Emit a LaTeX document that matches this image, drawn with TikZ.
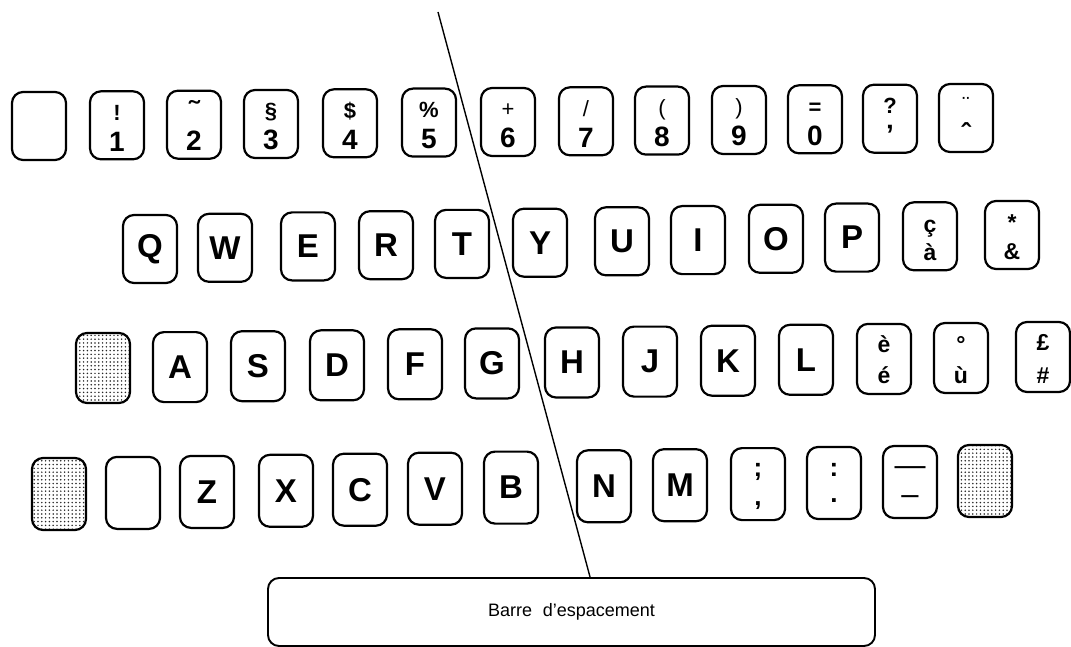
\documentclass[tikz,border=0pt]{standalone}
\usepackage{fontspec}
\usepackage{graphicx}
\setmainfont{Liberation Sans}
\usetikzlibrary{patterns.meta}
\newcommand\numkey[4]{% name, position, upper, lower
  \node[keycap] (#1) at (#2) {};
  \node[upsym] at ([yshift=5pt]#1.center) {#3};
  \node[digit] at ([yshift=-26pt]#1.center) {#4};}
\newcommand\lkey[4][]{% options, name, position, letter
  \node[keycap,#1] (#2) at (#3) {};
  \node[letter] at (#2.center) {#4};}
\newcommand\dkey[7][]{% options, name, position, upper, lower, upper shift, lower shift
  \node[keycap,#1] (#2) at (#3) {};
  \node[dual] at ([yshift=#6]#2.center) {#4};
  \node[dual] at ([yshift=#7]#2.center) {#5};}
\begin{document}
\begin{tikzpicture}[x=1pt,y=-1pt,
  keycap/.style={draw, line width=2.2pt, rounded corners=11pt, minimum width=54pt, minimum height=68pt, inner sep=0pt},
  r3/.style={minimum height=70pt},
  r4/.style={minimum height=72pt},
  dotted key/.style={pattern={Dots[distance=3.8pt,radius=0.85pt]}, pattern color=black!85},
  letter/.style={font=\fontsize{33}{33}\selectfont\bfseries, inner sep=0pt},
  digit/.style={font=\fontsize{28}{28}\selectfont\bfseries, inner sep=0pt, anchor=base},
  upsym/.style={font=\fontsize{22}{22}\selectfont\bfseries, inner sep=0pt, anchor=base},
  dual/.style={font=\fontsize{23}{23}\selectfont\bfseries, inner sep=0pt, anchor=base},
  punct/.style={font=\fontsize{26}{26}\selectfont\bfseries, inner sep=0pt, anchor=base},
  dashglyph/.style={font=\fontsize{31}{31}\selectfont, inner sep=0pt, anchor=base},
  spacebar/.style={draw, line width=1.9pt, rounded corners=11pt, minimum width=607pt, minimum height=68pt, inner sep=0pt},
  pointer/.style={line width=1.4pt}]
\useasboundingbox (0,0) rectangle (1071,647);
% ---- row 1
\node[keycap] (blank1) at (39,126) {};
\numkey{k1}{117,125.3}{!}{1}
\numkey{k2}{194,124.7}{\scalebox{1.4}[1.2]{˜}}{2}
\numkey{k3}{271,124}{§}{3}
\numkey{k4}{350,123.3}{\$}{4}
\numkey{k5}{429,122.6}{\%}{5}
\numkey{k6}{508,122}{\mdseries +}{6}
\numkey{k7}{586,121.3}{\mdseries /}{7}
\numkey{k8}{662,120.6}{\mdseries (}{8}
\numkey{k9}{739,120}{\mdseries )}{9}
\numkey{k0}{815,119.3}{=}{0}
\numkey{kques}{890,118.7}{?}{’}
\numkey{kdiaer}{966,118}{\mdseries ¨}{ˆ}
% ---- row 2
\lkey{kQ}{150,249}{Q}
\lkey{kW}{225,247.8}{W}
\lkey{kE}{308,246.4}{E}
\lkey{kR}{386,245.2}{R}
\lkey{kT}{462,243.9}{T}
\lkey{kY}{540,242.7}{Y}
\lkey{kU}{622,241.3}{U}
\lkey{kI}{698,240.1}{I}
\lkey{kO}{776,238.8}{O}
\lkey{kP}{852,237.6}{P}
\dkey{kced}{930,236.3}{ç}{à}{4pt}{-24pt}
\dkey{kamp}{1012,235}{*}{\&}{4pt}{-24pt}
% ---- row 3
\node[keycap,r3,dotted key] (lockL) at (103,368) {};
\lkey[r3]{kA}{180,367.1}{A}
\lkey[r3]{kS}{258,366.2}{S}
\lkey[r3]{kD}{337,365.3}{D}
\lkey[r3]{kF}{415,364.3}{F}
\lkey[r3]{kG}{492,363.4}{G}
\lkey[r3]{kH}{572,362.5}{H}
\lkey[r3]{kJ}{650,361.6}{J}
\lkey[r3]{kK}{728,360.7}{K}
\lkey[r3]{kL}{806,359.8}{L}
\dkey[r3]{kegr}{884,358.9}{è}{é}{6pt}{-25pt}
\dkey[r3]{kdeg}{961,358}{°}{ù}{6pt}{-25pt}
\dkey[r3]{kpound}{1043,357}{£}{\#}{7pt}{-26pt}
% ---- row 4
\node[keycap,r4,dotted key] (shiftL) at (59,494) {};
\node[keycap,r4] (blank4) at (133,492.9) {};
\lkey[r4]{kZ}{207,491.9}{Z}
\lkey[r4]{kX}{286,490.8}{X}
\lkey[r4]{kC}{360,489.7}{C}
\lkey[r4]{kV}{435,488.7}{V}
\lkey[r4]{kB}{511,487.6}{B}
\lkey[r4]{kN}{604,486.3}{N}
\lkey[r4]{kM}{680,485.2}{M}
\node[keycap,r4] (ksemi) at (758,484.1) {};
\node[punct] at ([yshift=8pt]ksemi.center) {;};
\node[punct] at ([yshift=-21pt]ksemi.center) {,};
\node[keycap,r4] (kcolon) at (834,483) {};
\node[punct] at ([yshift=7pt]kcolon.center) {:};
\node[punct] at ([yshift=-19pt]kcolon.center) {.};
\node[keycap,r4] (kdash) at (910,482) {};
\node[dashglyph] at ([yshift=7pt]kdash.center) {—};
\node[dashglyph] at ([yshift=-22pt]kdash.center) {–};
\node[keycap,r4,dotted key] (shiftR) at (985,481) {};
% ---- space bar and pointer line
\node[spacebar] (space) at (571.5,612) {\fontsize{18}{18}\selectfont Barre\hspace{0.6em}d’espacement};
\coordinate (ptop) at (438,12);
\path (space.north west) ++(323,0) coordinate (phit);
\draw[pointer] (ptop) -- (phit);
\end{tikzpicture}
\end{document}
